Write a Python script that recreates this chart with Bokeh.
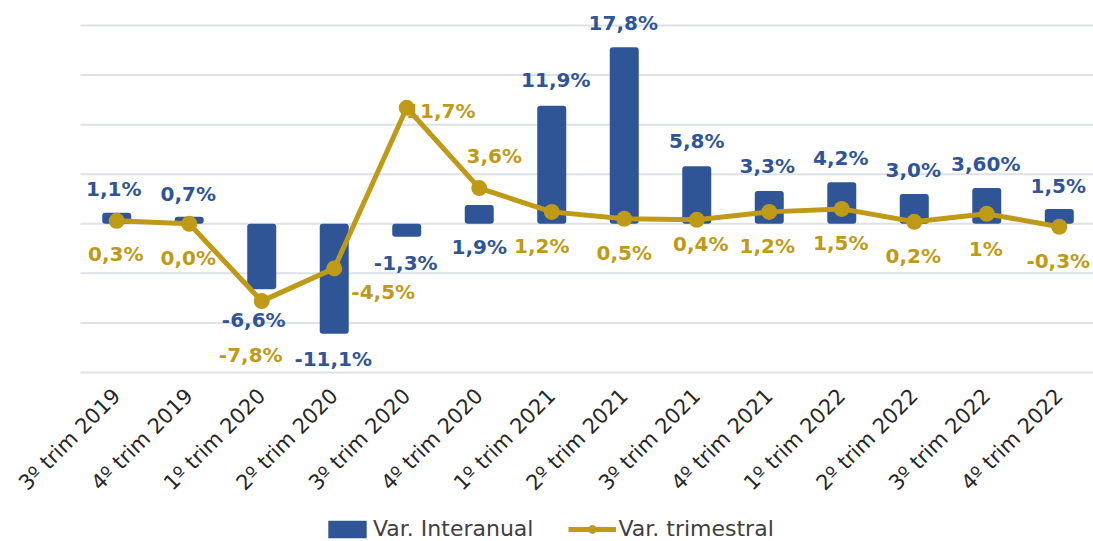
import math
from bokeh.plotting import figure
from bokeh.models import Range1d, FixedTicker, Legend, LegendItem, ColumnDataSource
from bokeh.core.properties import value
from bokeh.embed import file_html
from bokeh.resources import INLINE

# ---------------- data ----------------
categories = ["3º trim 2019", "4º trim 2019", "1º trim 2020", "2º trim 2020",
              "3º trim 2020", "4º trim 2020", "1º trim 2021", "2º trim 2021",
              "3º trim 2021", "4º trim 2021", "1º trim 2022", "2º trim 2022",
              "3º trim 2022", "4º trim 2022"]
interanual = [1.1, 0.7, -6.6, -11.1, -1.3, 1.9, 11.9, 17.8, 5.8, 3.3, 4.2, 3.0, 3.6, 1.5]
trimestral = [0.3, 0.0, -7.8, -4.5, 11.7, 3.6, 1.2, 0.5, 0.4, 1.2, 1.5, 0.2, 1.0, -0.3]
interanual_labels = ["1,1%", "0,7%", "-6,6%", "-11,1%", "-1,3%", "1,9%", "11,9%",
                     "17,8%", "5,8%", "3,3%", "4,2%", "3,0%", "3,60%", "1,5%"]
trimestral_labels = ["0,3%", "0,0%", "-7,8%", "-4,5%", "11,7%", "3,6%", "1,2%",
                     "0,5%", "0,4%", "1,2%", "1,5%", "0,2%", "1%", "-0,3%"]
y_ticks = [-15, -10, -5, 0, 5, 10, 15, 20]

# ---------------- layout (label offsets in screen px) ----------------
bar_dx = [-3, -1, -8, -1, -1, 0, 4, -1, 0, -2, -1, -1, -1, -1]
bar_dy = [-24, -23, 31, 25, 26, 42, -26, -24, -25, -25, -24, -24, -24, -23]
line_dx = [-1, -1, -11, 49, 34, 15, -10, 0, 4, -2, -1, -1, -1, -1]
line_dy = [33, 34, 54, 24, 3, -32, 34, 34, 24, 34, 34, 34, 35, 34]

BLUE = "#2F5597"
GOLD = "#BF9A17"
GRID = "#DDE2E8"
FONT = "DejaVu Sans"

X_START, X_END = -1.603, 13.472     # left margin of the plot lies inside the frame
Y_START, Y_END = -32.05, 21.715

xs = list(range(len(categories)))
src = ColumnDataSource(dict(
    x=xs, inter=interanual, trim=trimestral,
    ilab=interanual_labels, tlab=trimestral_labels,
    bdx=bar_dx, bdy=bar_dy, ldx=line_dx, ldy=line_dy,
))

# frame spans the whole window; the value area occupies its upper-right part
p = figure(frame_width=1093, frame_height=533, output_backend="svg", toolbar_location=None,
           x_range=Range1d(X_START, X_END), y_range=Range1d(Y_START, Y_END),
           min_border_left=0, min_border_right=0, min_border_top=8,
           min_border_bottom=0)
p.outline_line_color = None
p.background_fill_color = "white"

# horizontal gridlines (only across the value area)
grid_src = ColumnDataSource(dict(y=y_ticks, x0=[-0.5] * len(y_ticks), x1=[X_END] * len(y_ticks)))
p.segment(x0="x0", x1="x1", y0="y", y1="y", source=grid_src,
          line_color=GRID, line_width=2, level="underlay")

bars = p.vbar(x="x", top="inter", bottom=0, width=0.4, source=src,
              fill_color=BLUE, line_color=None, border_radius=3)
line_r = p.line(x="x", y="trim", source=src, line_color=GOLD, line_width=5)
pts = p.scatter(x="x", y="trim", source=src, size=16, marker="circle",
                fill_color=GOLD, line_color=None)

p.text(x="x", y="inter", text="ilab", source=src, x_offset="bdx", y_offset="bdy",
       text_align="center", text_baseline="middle", text_color=BLUE,
       text_font=value(FONT), text_font_style="bold", text_font_size="20px")
p.text(x="x", y="trim", text="tlab", source=src, x_offset="ldx", y_offset="ldy",
       text_align="center", text_baseline="middle", text_color=GOLD,
       text_font=value(FONT), text_font_style="bold", text_font_size="20px")

# axes / grid
p.yaxis.visible = False
p.ygrid.grid_line_color = None
p.xgrid.grid_line_color = None

p.xaxis.fixed_location = -15.2
p.xaxis.ticker = FixedTicker(ticks=xs)
p.xaxis.major_label_overrides = {i: c for i, c in zip(xs, categories)}
p.xaxis.major_label_orientation = math.pi / 4
p.xaxis.axis_line_color = None
p.xaxis.major_tick_line_color = None
p.xaxis.minor_tick_line_color = None
p.xaxis.major_label_standoff = 12
p.xaxis.major_label_text_font = FONT
p.xaxis.major_label_text_font_size = "21px"
p.xaxis.major_label_text_color = "#262626"

legend = Legend(items=[LegendItem(label="Var. Interanual", renderers=[bars]),
                       LegendItem(label="Var. trimestral", renderers=[line_r, pts])],
                orientation="horizontal", location=(323, 0),
                label_text_font=FONT, label_text_font_size="22px",
                label_text_color="#404040", glyph_width=48, glyph_height=22,
                label_standoff=2, spacing=35, padding=0, margin=0,
                border_line_color=None, background_fill_alpha=0)
p.add_layout(legend, "center")

open("out.html", "w").write(file_html(p, INLINE))
